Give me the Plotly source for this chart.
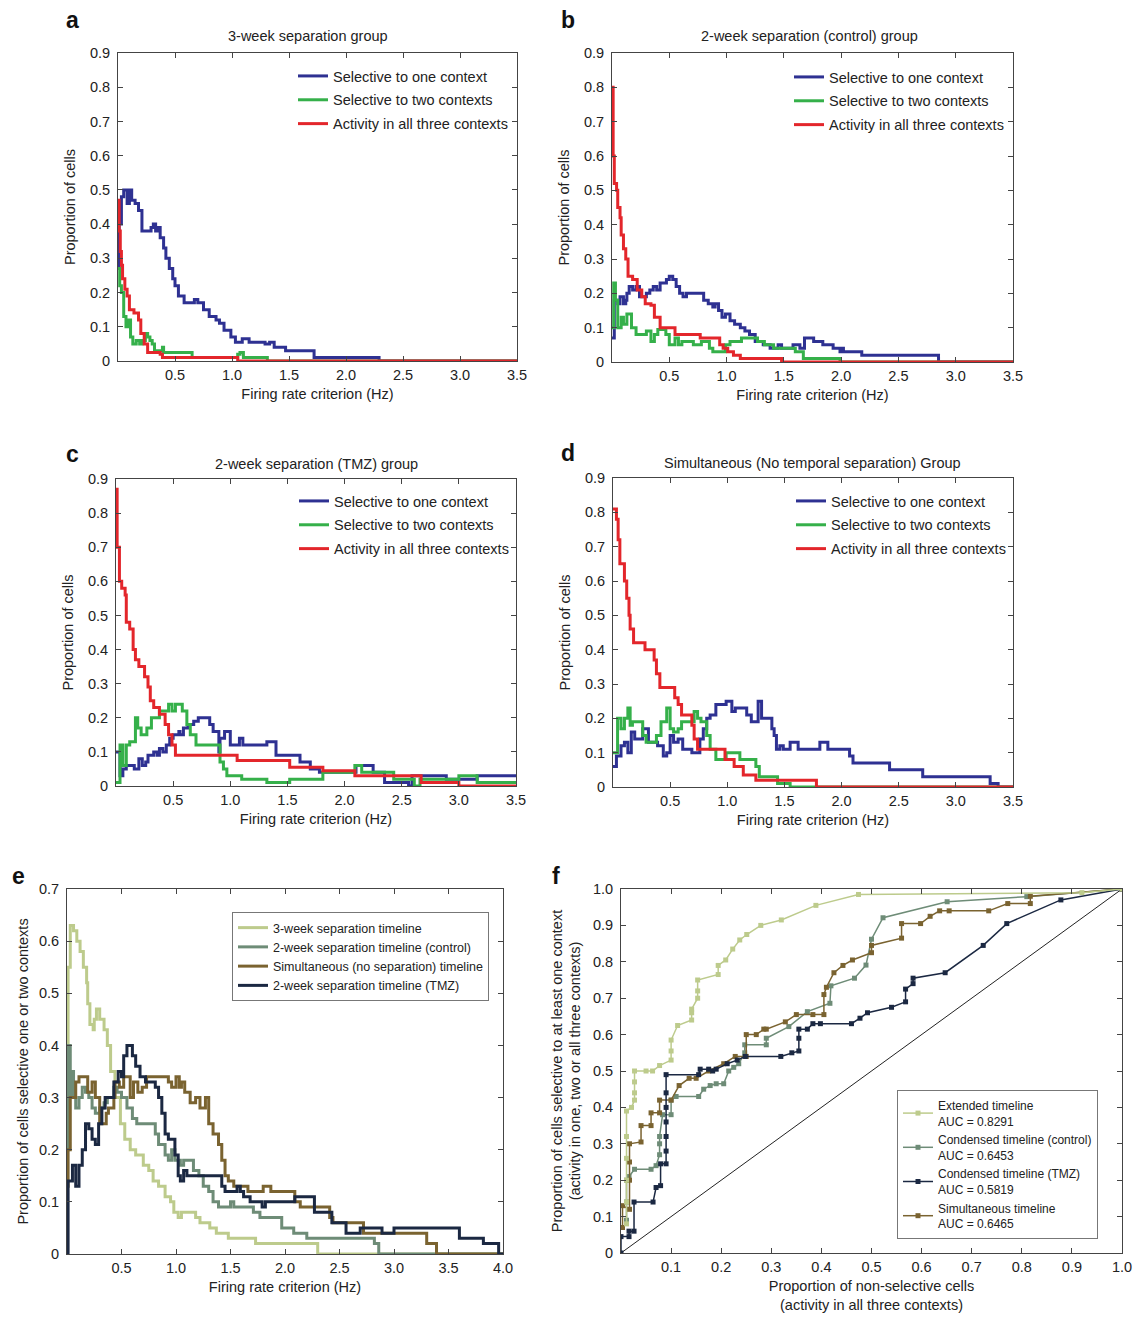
import plotly.graph_objects as go

# ---------------- DATA ----------------
# Panel a: 3-week separation group
A_ONE_X = [0, 0.01, 0.03, 0.05, 0.08, 0.10, 0.12, 0.15, 0.18, 0.21, 0.27, 0.29, 0.31, 0.33, 0.345, 0.37, 0.40, 0.42, 0.45, 0.48, 0.50, 0.53, 0.58, 0.62, 0.67, 0.70, 0.75, 0.80, 0.86, 0.89, 0.93, 0.99, 1.03, 1.09, 1.15, 1.29, 1.33, 1.37, 1.47, 1.72, 2.29, 3.5]
A_ONE_Y = [0.27, 0.40, 0.48, 0.50, 0.46, 0.50, 0.47, 0.46, 0.44, 0.38, 0.38, 0.39, 0.40, 0.38, 0.39, 0.36, 0.33, 0.30, 0.27, 0.24, 0.22, 0.19, 0.17, 0.17, 0.18, 0.17, 0.15, 0.13, 0.12, 0.11, 0.09, 0.07, 0.055, 0.065, 0.055, 0.05, 0.055, 0.04, 0.03, 0.01, 0.0, 0.0]
A_TWO_X = [0, 0.015, 0.03, 0.05, 0.07, 0.09, 0.11, 0.13, 0.16, 0.19, 0.21, 0.24, 0.26, 0.28, 0.30, 0.32, 0.37, 0.39, 0.40, 0.65, 1.05, 1.07, 1.10, 1.31, 3.5]
A_TWO_Y = [0.27, 0.22, 0.20, 0.13, 0.10, 0.12, 0.07, 0.05, 0.06, 0.05, 0.06, 0.08, 0.07, 0.06, 0.05, 0.03, 0.03, 0.04, 0.025, 0.01, 0.02, 0.025, 0.01, 0.0, 0.0]
A_ALL_X = [0, 0.01, 0.02, 0.03, 0.04, 0.06, 0.08, 0.10, 0.14, 0.18, 0.20, 0.23, 0.26, 0.37, 0.39, 1.05, 3.5]
A_ALL_Y = [0.47, 0.38, 0.32, 0.28, 0.24, 0.21, 0.19, 0.15, 0.14, 0.12, 0.08, 0.05, 0.025, 0.02, 0.01, 0.0, 0.0]

# Panel b: 2-week separation (control) group
B_ONE_X = [0, 0.02, 0.05, 0.07, 0.10, 0.12, 0.13, 0.15, 0.18, 0.21, 0.24, 0.27, 0.30, 0.33, 0.36, 0.39, 0.42, 0.45, 0.475, 0.50, 0.53, 0.56, 0.59, 0.62, 0.65, 0.80, 0.84, 0.88, 0.90, 0.93, 0.96, 0.99, 1.03, 1.07, 1.12, 1.16, 1.20, 1.25, 1.32, 1.38, 1.45, 1.48, 1.58, 1.64, 1.68, 1.76, 1.84, 1.93, 1.99, 2.005, 2.02, 2.18, 2.85, 3.5]
B_ONE_Y = [0.07, 0.18, 0.17, 0.19, 0.17, 0.18, 0.20, 0.22, 0.21, 0.22, 0.19, 0.19, 0.20, 0.21, 0.22, 0.21, 0.23, 0.23, 0.24, 0.25, 0.24, 0.22, 0.20, 0.19, 0.20, 0.18, 0.17, 0.16, 0.17, 0.15, 0.13, 0.14, 0.12, 0.11, 0.10, 0.09, 0.08, 0.06, 0.05, 0.04, 0.05, 0.04, 0.05, 0.04, 0.07, 0.06, 0.05, 0.04, 0.03, 0.04, 0.03, 0.02, 0.0, 0.0]
B_TWO_X = [0, 0.015, 0.03, 0.05, 0.08, 0.10, 0.13, 0.17, 0.21, 0.30, 0.34, 0.37, 0.40, 0.47, 0.50, 0.55, 0.58, 0.61, 0.71, 0.78, 0.85, 0.88, 0.99, 1.03, 1.13, 1.27, 1.33, 1.41, 1.60, 1.67, 1.99, 3.5]
B_TWO_Y = [0.10, 0.23, 0.18, 0.10, 0.13, 0.11, 0.14, 0.10, 0.08, 0.09, 0.06, 0.08, 0.095, 0.08, 0.05, 0.07, 0.05, 0.06, 0.05, 0.06, 0.04, 0.03, 0.05, 0.06, 0.07, 0.06, 0.05, 0.04, 0.03, 0.01, 0.0, 0.0]
B_ALL_X = [0, 0.01, 0.02, 0.04, 0.05, 0.07, 0.08, 0.10, 0.12, 0.14, 0.18, 0.22, 0.26, 0.29, 0.34, 0.37, 0.42, 0.55, 0.77, 0.94, 0.97, 1.01, 1.06, 1.12, 1.48, 3.5]
B_ALL_Y = [0.80, 0.60, 0.52, 0.50, 0.45, 0.42, 0.37, 0.33, 0.30, 0.25, 0.24, 0.21, 0.19, 0.17, 0.165, 0.13, 0.10, 0.08, 0.07, 0.05, 0.04, 0.03, 0.02, 0.01, 0.0, 0.0]

# Panel c: 2-week separation (TMZ) group
C_ONE_X = [0, 0.035, 0.06, 0.09, 0.16, 0.20, 0.23, 0.26, 0.28, 0.33, 0.36, 0.38, 0.41, 0.44, 0.47, 0.50, 0.55, 0.56, 0.59, 0.63, 0.68, 0.72, 0.82, 0.85, 0.90, 0.91, 0.95, 1.00, 1.08, 1.11, 1.32, 1.40, 1.61, 1.70, 1.78, 2.10, 2.25, 2.35, 2.56, 2.59, 2.89, 3.16, 3.5]
C_ONE_Y = [0.10, 0.03, 0.05, 0.06, 0.05, 0.08, 0.06, 0.07, 0.09, 0.10, 0.09, 0.11, 0.10, 0.12, 0.14, 0.15, 0.16, 0.15, 0.17, 0.18, 0.19, 0.20, 0.18, 0.16, 0.10, 0.14, 0.16, 0.12, 0.14, 0.12, 0.13, 0.09, 0.07, 0.05, 0.04, 0.06, 0.04, 0.01, 0.0, 0.03, 0.02, 0.03, 0.03]
C_TWO_X = [0, 0.035, 0.06, 0.09, 0.12, 0.17, 0.19, 0.22, 0.27, 0.31, 0.38, 0.46, 0.49, 0.52, 0.58, 0.62, 0.65, 0.70, 0.91, 0.94, 0.97, 1.10, 1.32, 1.52, 1.81, 2.09, 2.15, 2.43, 2.61, 2.66, 3.00, 3.16, 3.5]
C_TWO_Y = [0.01, 0.12, 0.06, 0.12, 0.13, 0.20, 0.17, 0.15, 0.17, 0.20, 0.22, 0.24, 0.22, 0.24, 0.22, 0.18, 0.15, 0.12, 0.07, 0.05, 0.03, 0.02, 0.01, 0.02, 0.04, 0.06, 0.04, 0.02, 0.0, 0.02, 0.03, 0.01, 0.01]
C_ALL_X = [0, 0.01, 0.03, 0.05, 0.08, 0.09, 0.12, 0.15, 0.17, 0.20, 0.25, 0.28, 0.30, 0.33, 0.38, 0.43, 0.46, 0.49, 0.52, 1.06, 1.52, 1.81, 2.09, 2.67, 3.00, 3.5]
C_ALL_Y = [0.87, 0.70, 0.60, 0.58, 0.56, 0.48, 0.46, 0.40, 0.37, 0.35, 0.32, 0.29, 0.25, 0.23, 0.21, 0.18, 0.15, 0.12, 0.09, 0.075, 0.055, 0.045, 0.03, 0.01, 0.0, 0.0]

# Panel d: Simultaneous group
D_ONE_X = [0, 0.03, 0.07, 0.10, 0.13, 0.16, 0.19, 0.26, 0.31, 0.39, 0.44, 0.47, 0.50, 0.53, 0.57, 0.61, 0.69, 0.76, 0.79, 0.82, 0.85, 0.90, 0.99, 1.04, 1.07, 1.17, 1.21, 1.27, 1.30, 1.39, 1.41, 1.43, 1.46, 1.49, 1.55, 1.62, 1.81, 1.88, 2.07, 2.10, 2.42, 2.71, 3.30, 3.37, 3.5]
D_ONE_Y = [0.06, 0.09, 0.12, 0.13, 0.10, 0.16, 0.14, 0.17, 0.13, 0.12, 0.09, 0.10, 0.15, 0.13, 0.14, 0.11, 0.10, 0.14, 0.17, 0.20, 0.21, 0.24, 0.25, 0.22, 0.23, 0.21, 0.19, 0.25, 0.20, 0.17, 0.15, 0.11, 0.12, 0.11, 0.13, 0.11, 0.13, 0.11, 0.09, 0.07, 0.05, 0.03, 0.01, 0.0, 0.0]
D_TWO_X = [0, 0.04, 0.07, 0.10, 0.13, 0.15, 0.17, 0.26, 0.29, 0.38, 0.42, 0.47, 0.50, 0.53, 0.57, 0.60, 0.71, 0.74, 0.77, 0.82, 0.85, 0.90, 0.99, 1.11, 1.25, 1.28, 1.44, 1.55, 3.5]
D_TWO_Y = [0.10, 0.20, 0.17, 0.20, 0.23, 0.18, 0.19, 0.15, 0.13, 0.15, 0.19, 0.23, 0.17, 0.16, 0.17, 0.19, 0.22, 0.20, 0.19, 0.15, 0.11, 0.08, 0.10, 0.08, 0.06, 0.03, 0.01, 0.0, 0.0]
D_ALL_X = [0, 0.03, 0.045, 0.06, 0.10, 0.12, 0.14, 0.15, 0.18, 0.28, 0.36, 0.38, 0.41, 0.54, 0.57, 0.60, 0.69, 0.71, 0.74, 0.98, 1.06, 1.14, 1.25, 1.78, 3.5]
D_ALL_Y = [0.81, 0.78, 0.72, 0.65, 0.60, 0.55, 0.50, 0.46, 0.42, 0.40, 0.37, 0.33, 0.29, 0.26, 0.24, 0.21, 0.18, 0.14, 0.11, 0.08, 0.06, 0.035, 0.02, 0.0, 0.0]

# Panel e: proportion of cells selective to one or two contexts
E_3W_X = [0, 0.01, 0.03, 0.06, 0.09, 0.12, 0.15, 0.18, 0.19, 0.21, 0.24, 0.25, 0.27, 0.30, 0.34, 0.37, 0.40, 0.44, 0.49, 0.53, 0.58, 0.63, 0.70, 0.75, 0.79, 0.84, 0.90, 0.95, 0.98, 1.02, 1.05, 1.18, 1.22, 1.31, 1.37, 1.48, 1.73, 2.30, 4.0]
E_3W_Y = [0.40, 0.55, 0.63, 0.62, 0.60, 0.58, 0.55, 0.52, 0.48, 0.44, 0.43, 0.45, 0.47, 0.45, 0.43, 0.40, 0.35, 0.30, 0.25, 0.22, 0.20, 0.19, 0.17, 0.16, 0.14, 0.13, 0.11, 0.10, 0.08, 0.07, 0.08, 0.07, 0.06, 0.05, 0.04, 0.03, 0.02, 0.0, 0.0]
E_CTRL_X = [0, 0.01, 0.03, 0.04, 0.06, 0.08, 0.11, 0.14, 0.17, 0.20, 0.23, 0.26, 0.30, 0.34, 0.37, 0.43, 0.46, 0.50, 0.55, 0.60, 0.64, 0.81, 0.84, 0.90, 0.93, 0.96, 0.99, 1.04, 1.07, 1.16, 1.21, 1.25, 1.30, 1.34, 1.39, 1.50, 1.53, 1.71, 1.77, 1.97, 2.08, 2.20, 2.82, 2.86, 4.0]
E_CTRL_Y = [0.20, 0.40, 0.30, 0.35, 0.30, 0.28, 0.30, 0.32, 0.31, 0.30, 0.28, 0.27, 0.28, 0.29, 0.30, 0.32, 0.31, 0.30, 0.28, 0.26, 0.25, 0.23, 0.21, 0.19, 0.18, 0.20, 0.18, 0.17, 0.18, 0.16, 0.15, 0.13, 0.12, 0.10, 0.09, 0.10, 0.09, 0.08, 0.07, 0.05, 0.04, 0.03, 0.02, 0.0, 0.0]
E_SIM_X = [0, 0.01, 0.03, 0.08, 0.11, 0.19, 0.23, 0.26, 0.30, 0.36, 0.38, 0.43, 0.44, 0.48, 0.52, 0.58, 0.61, 0.65, 0.69, 0.73, 0.93, 0.96, 1.00, 1.03, 1.05, 1.08, 1.13, 1.18, 1.22, 1.27, 1.30, 1.34, 1.39, 1.42, 1.45, 1.48, 1.53, 1.66, 1.80, 1.87, 2.09, 2.14, 2.41, 2.44, 2.72, 3.30, 3.39, 4.0]
E_SIM_Y = [0.13, 0.20, 0.30, 0.33, 0.34, 0.31, 0.33, 0.30, 0.25, 0.27, 0.28, 0.30, 0.33, 0.32, 0.34, 0.30, 0.33, 0.31, 0.32, 0.34, 0.33, 0.32, 0.34, 0.32, 0.33, 0.31, 0.29, 0.30, 0.28, 0.30, 0.25, 0.23, 0.21, 0.18, 0.15, 0.14, 0.13, 0.12, 0.13, 0.12, 0.10, 0.09, 0.07, 0.06, 0.04, 0.02, 0.0, 0.0]
E_TMZ_X = [0, 0.01, 0.05, 0.08, 0.11, 0.14, 0.17, 0.20, 0.23, 0.26, 0.29, 0.32, 0.35, 0.43, 0.47, 0.50, 0.52, 0.55, 0.60, 0.63, 0.67, 0.72, 0.81, 0.84, 0.87, 0.90, 0.93, 0.99, 1.02, 1.04, 1.07, 1.10, 1.42, 1.45, 1.56, 1.59, 1.62, 1.68, 1.79, 1.82, 2.09, 2.27, 2.43, 2.56, 2.69, 2.89, 3.00, 3.60, 3.82, 3.96, 4.0]
E_TMZ_Y = [0.0, 0.14, 0.17, 0.13, 0.17, 0.20, 0.25, 0.24, 0.22, 0.21, 0.25, 0.28, 0.30, 0.33, 0.35, 0.34, 0.38, 0.40, 0.38, 0.36, 0.34, 0.33, 0.32, 0.30, 0.27, 0.23, 0.22, 0.19, 0.15, 0.14, 0.16, 0.15, 0.13, 0.12, 0.13, 0.12, 0.11, 0.10, 0.09, 0.10, 0.11, 0.08, 0.06, 0.04, 0.05, 0.04, 0.05, 0.03, 0.02, 0.0, 0.0]

# Panel f: ROC-like curves
F_EXT_X = [0.011, 0.011, 0.011, 0.011, 0.011, 0.011, 0.021, 0.027, 0.027, 0.027, 0.027, 0.05, 0.063, 0.077, 0.1, 0.1, 0.1, 0.113, 0.141, 0.141, 0.141, 0.153, 0.153, 0.153, 0.194, 0.194, 0.209, 0.223, 0.237, 0.251, 0.279, 0.32, 0.389, 0.474, 0.92, 1.0]
F_EXT_Y = [0.08, 0.14, 0.2, 0.26, 0.32, 0.39, 0.40, 0.42, 0.44, 0.47, 0.5, 0.5, 0.5, 0.515, 0.53, 0.555, 0.585, 0.625, 0.64, 0.66, 0.67, 0.70, 0.72, 0.75, 0.765, 0.79, 0.805, 0.835, 0.86, 0.875, 0.90, 0.915, 0.955, 0.985, 0.99, 1.0]
F_CTRL_X = [0.011, 0.011, 0.011, 0.016, 0.027, 0.06, 0.07, 0.077, 0.077, 0.077, 0.083, 0.1, 0.1, 0.11, 0.155, 0.165, 0.178, 0.19, 0.205, 0.215, 0.225, 0.235, 0.247, 0.247, 0.29, 0.29, 0.335, 0.372, 0.417, 0.419, 0.466, 0.489, 0.5, 0.523, 0.651, 0.81, 1.0]
F_CTRL_Y = [0.09, 0.14, 0.2, 0.21, 0.23, 0.23, 0.24, 0.27, 0.3, 0.32, 0.38, 0.38, 0.42, 0.43, 0.43, 0.45, 0.46, 0.465, 0.465, 0.5, 0.51, 0.52, 0.55, 0.572, 0.572, 0.59, 0.622, 0.663, 0.686, 0.734, 0.755, 0.791, 0.862, 0.921, 0.965, 0.979, 1.0]
F_TMZ_X = [0.0, 0.0, 0.016, 0.016, 0.026, 0.026, 0.064, 0.07, 0.079, 0.079, 0.09, 0.09, 0.09, 0.09, 0.09, 0.09, 0.09, 0.155, 0.158, 0.175, 0.183, 0.19, 0.212, 0.232, 0.248, 0.319, 0.341, 0.355, 0.355, 0.355, 0.372, 0.383, 0.398, 0.46, 0.477, 0.492, 0.54, 0.568, 0.568, 0.583, 0.583, 0.647, 0.723, 0.77, 0.878, 1.0]
F_TMZ_Y = [0.0, 0.045, 0.045, 0.06, 0.06, 0.14, 0.14, 0.18, 0.185, 0.245, 0.245, 0.28, 0.32, 0.36, 0.40, 0.44, 0.49, 0.49, 0.505, 0.505, 0.5, 0.505, 0.52, 0.53, 0.54, 0.54, 0.55, 0.555, 0.59, 0.615, 0.615, 0.63, 0.63, 0.63, 0.645, 0.66, 0.675, 0.69, 0.725, 0.74, 0.755, 0.77, 0.845, 0.905, 0.97, 1.0]
F_SIM_X = [0.003, 0.003, 0.017, 0.017, 0.017, 0.017, 0.04, 0.04, 0.06, 0.06, 0.077, 0.077, 0.1, 0.116, 0.136, 0.15, 0.175, 0.205, 0.228, 0.25, 0.25, 0.27, 0.285, 0.29, 0.328, 0.35, 0.383, 0.405, 0.405, 0.41, 0.425, 0.443, 0.462, 0.5, 0.5, 0.56, 0.56, 0.598, 0.617, 0.636, 0.655, 0.734, 0.772, 0.817, 0.817, 1.0]
F_SIM_Y = [0.07, 0.13, 0.12, 0.2, 0.25, 0.3, 0.305, 0.35, 0.35, 0.385, 0.385, 0.42, 0.42, 0.46, 0.48, 0.48, 0.5, 0.52, 0.54, 0.54, 0.6, 0.6, 0.615, 0.615, 0.635, 0.655, 0.655, 0.655, 0.71, 0.73, 0.77, 0.79, 0.805, 0.825, 0.845, 0.865, 0.905, 0.905, 0.925, 0.94, 0.94, 0.94, 0.96, 0.96, 0.98, 1.0]
F_DIAG = [0, 1]

SERIES_ABCD = ["Selective to one context", "Selective to two contexts", "Activity in all three contexts"]
SERIES_E = ["3-week separation timeline", "2-week separation timeline (control)",
            "Simultaneous (no separation) timeline", "2-week separation timeline (TMZ)"]
SERIES_F = ["Extended timeline<br>AUC = 0.8291", "Condensed timeline (control)<br>AUC = 0.6453",
            "Condensed timeline (TMZ)<br>AUC = 0.5819", "Simultaneous timeline<br>AUC = 0.6465"]

TICKS_XA = [0.5, 1.0, 1.5, 2.0, 2.5, 3.0, 3.5]
TICKS_XE = [0.5, 1.0, 1.5, 2.0, 2.5, 3.0, 3.5, 4.0]
TICKS_XF = [0.1, 0.2, 0.3, 0.4, 0.5, 0.6, 0.7, 0.8, 0.9, 1.0]
TICKS_Y9 = [0, 0.1, 0.2, 0.3, 0.4, 0.5, 0.6, 0.7, 0.8, 0.9]
TICKS_Y7 = [0, 0.1, 0.2, 0.3, 0.4, 0.5, 0.6, 0.7]
TICKS_Y10 = [0, 0.1, 0.2, 0.3, 0.4, 0.5, 0.6, 0.7, 0.8, 0.9, 1.0]

# ---------------- STYLE ----------------
W, H = 1141, 1318
PAGE_OFF = 8  # the page body margin shifts the figure by this many px
FONT = "Liberation Sans, Arial, sans-serif"
FS = 14.5
C_BLUE, C_GREEN, C_RED = "#2E3192", "#35B04A", "#E3262B"
C_E = ["#BDCB8C", "#6E8C77", "#7A6330", "#1B2842"]


def fx(px):
    return (px - PAGE_OFF) / W


def fy(py):
    return 1 - (py - PAGE_OFF) / H


def ylab(v):
    return "0" if v == 0 else f"{v:.1f}"


fig = go.Figure()

panels_abcd = [
    ("", A_ONE_X, A_ONE_Y, A_TWO_X, A_TWO_Y, A_ALL_X, A_ALL_Y),
    ("2", B_ONE_X, B_ONE_Y, B_TWO_X, B_TWO_Y, B_ALL_X, B_ALL_Y),
    ("3", C_ONE_X, C_ONE_Y, C_TWO_X, C_TWO_Y, C_ALL_X, C_ALL_Y),
    ("4", D_ONE_X, D_ONE_Y, D_TWO_X, D_TWO_Y, D_ALL_X, D_ALL_Y),
]
for k, (sfx, x1, y1, x2, y2, x3, y3) in enumerate(panels_abcd):
    for name, xs, ys, col in zip(SERIES_ABCD, [x1, x2, x3], [y1, y2, y3], [C_BLUE, C_GREEN, C_RED]):
        fig.add_trace(go.Scatter(
            x=xs, y=ys, mode="lines", name=name, line=dict(color=col, width=3, shape="hv"),
            xaxis="x" + sfx, yaxis="y" + sfx, legend="legend" + sfx,
            legendgroup=f"p{k}{name}", showlegend=True))

for name, xs, ys, col in zip(SERIES_E, [E_3W_X, E_CTRL_X, E_SIM_X, E_TMZ_X],
                             [E_3W_Y, E_CTRL_Y, E_SIM_Y, E_TMZ_Y], C_E):
    fig.add_trace(go.Scatter(x=xs, y=ys, mode="lines", name=name,
                             line=dict(color=col, width=3, shape="hv"),
                             xaxis="x5", yaxis="y5", legend="legend5"))

fig.add_trace(go.Scatter(x=F_DIAG, y=F_DIAG, mode="lines", line=dict(color="#222", width=1),
                         xaxis="x6", yaxis="y6", showlegend=False, hoverinfo="skip"))
F_ORDER = [(F_CTRL_X, F_CTRL_Y, C_E[1], SERIES_F[1]), (F_SIM_X, F_SIM_Y, C_E[2], SERIES_F[3]),
           (F_TMZ_X, F_TMZ_Y, C_E[3], SERIES_F[2]), (F_EXT_X, F_EXT_Y, C_E[0], SERIES_F[0])]
LEG_RANK = {SERIES_F[0]: 1, SERIES_F[1]: 2, SERIES_F[2]: 3, SERIES_F[3]: 4}
for xs, ys, col, name in F_ORDER:
    fig.add_trace(go.Scatter(x=xs, y=ys, mode="lines+markers", name=name,
                             line=dict(color=col, width=1.5),
                             marker=dict(symbol="square", size=5, color=col),
                             xaxis="x6", yaxis="y6", legend="legend6",
                             legendrank=LEG_RANK[name]))

# ---------------- AXES ----------------
axis_common = dict(showline=True, linecolor="#444", linewidth=1, mirror="ticks", ticks="inside",
                   ticklen=5, tickcolor="#444", showgrid=False, zeroline=False,
                   tickfont=dict(family=FONT, size=FS, color="#222"))
title_font = dict(family=FONT, size=FS, color="#222")

boxes = {  # left, right, top, bottom in reference px
    "": (118, 517, 53, 361),
    "2": (612, 1013, 53, 362),
    "3": (116, 516, 479, 786),
    "4": (613, 1013, 478, 787),
    "5": (67, 503, 889, 1254),
    "6": (621, 1122, 889, 1253),
}
layout = dict(width=W, height=H, margin=dict(l=0, r=0, t=0, b=0, pad=0, autoexpand=False),
              paper_bgcolor="white", plot_bgcolor="white",
              font=dict(family=FONT, size=FS, color="#222"), showlegend=True)

for sfx, (l, r, t, b) in boxes.items():
    if sfx in ("", "2", "3", "4"):
        xr, xt, yr, yt = [0, 3.5], TICKS_XA, [0, 0.9], TICKS_Y9
        xtitle, ytitle = "Firing rate criterion (Hz)", "Proportion of cells"
        ysoff = 10
    elif sfx == "5":
        xr, xt, yr, yt = [0, 4.0], TICKS_XE, [0, 0.7], TICKS_Y7
        xtitle, ytitle = "Firing rate criterion (Hz)", "Proportion of cells selective one or two contexts"
        ysoff = 6
    else:
        xr, xt, yr, yt = [0, 1.0], TICKS_XF, [0, 1.0], TICKS_Y10
        xtitle = "Proportion of non-selective cells<br>(activity in all three contexts)"
        ytitle = "Proportion of cells selective to at least one context<br>(activity in one, two or all three contexts)"
        ysoff = 8
    layout["xaxis" + sfx] = dict(axis_common, domain=[fx(l), fx(r)], range=xr,
                                 tickvals=xt, ticktext=[f"{v:.1f}" for v in xt], ticklabelstandoff=1,
                                 anchor="y" + sfx, title=dict(text=xtitle, font=title_font, standoff=6))
    layout["yaxis" + sfx] = dict(axis_common, domain=[fy(b), fy(t)], range=yr,
                                 tickvals=yt, ticktext=[ylab(v) for v in yt], ticklabelstandoff=4,
                                 anchor="x" + sfx, title=dict(text=ytitle, font=title_font, standoff=ysoff))

# ---------------- LEGENDS ----------------
leg_abcd = dict(bgcolor="rgba(255,255,255,0)", borderwidth=0, xanchor="left", yanchor="top",
                font=dict(family=FONT, size=FS, color="#222"), tracegroupgap=2, itemwidth=30)
layout["legend"] = dict(leg_abcd, x=fx(293), y=fy(60))
layout["legend2"] = dict(leg_abcd, x=fx(789), y=fy(61))
layout["legend3"] = dict(leg_abcd, x=fx(294), y=fy(485))
layout["legend4"] = dict(leg_abcd, x=fx(791), y=fy(485))
layout["legend5"] = dict(bgcolor="white", bordercolor="#777", borderwidth=1, xanchor="left",
                         yanchor="top", x=fx(232), y=fy(912), tracegroupgap=0, itemwidth=30,
                         font=dict(family=FONT, size=12.5, color="#222"))
layout["legend6"] = dict(bgcolor="white", bordercolor="#777", borderwidth=1, xanchor="left",
                         yanchor="top", x=fx(897), y=fy(1090), tracegroupgap=0, itemwidth=30,
                         font=dict(family=FONT, size=12, color="#222"))

# ---------------- ANNOTATIONS ----------------
ann = []
for txt, px, py in [("a", 72, 20), ("b", 568, 20), ("c", 72, 454), ("d", 568, 453), ("e", 18, 876), ("f", 556, 876)]:
    ann.append(dict(text=f"<b>{txt}</b>", x=fx(px), y=fy(py), xref="paper", yref="paper",
                    showarrow=False, xanchor="center", yanchor="middle",
                    font=dict(family=FONT, size=23, color="#111")))
for txt, px, py in [("3-week separation group", 308, 36), ("2-week separation (control) group", 809, 36),
                    ("2-week separation (TMZ) group", 316, 464),
                    ("Simultaneous (No temporal separation) Group", 812, 463)]:
    ann.append(dict(text=txt, x=fx(px), y=fy(py), xref="paper", yref="paper", showarrow=False,
                    xanchor="center", yanchor="middle", font=dict(family=FONT, size=FS, color="#222")))
layout["annotations"] = ann

fig.update_layout(**layout)
fig.write_html("out.html")
